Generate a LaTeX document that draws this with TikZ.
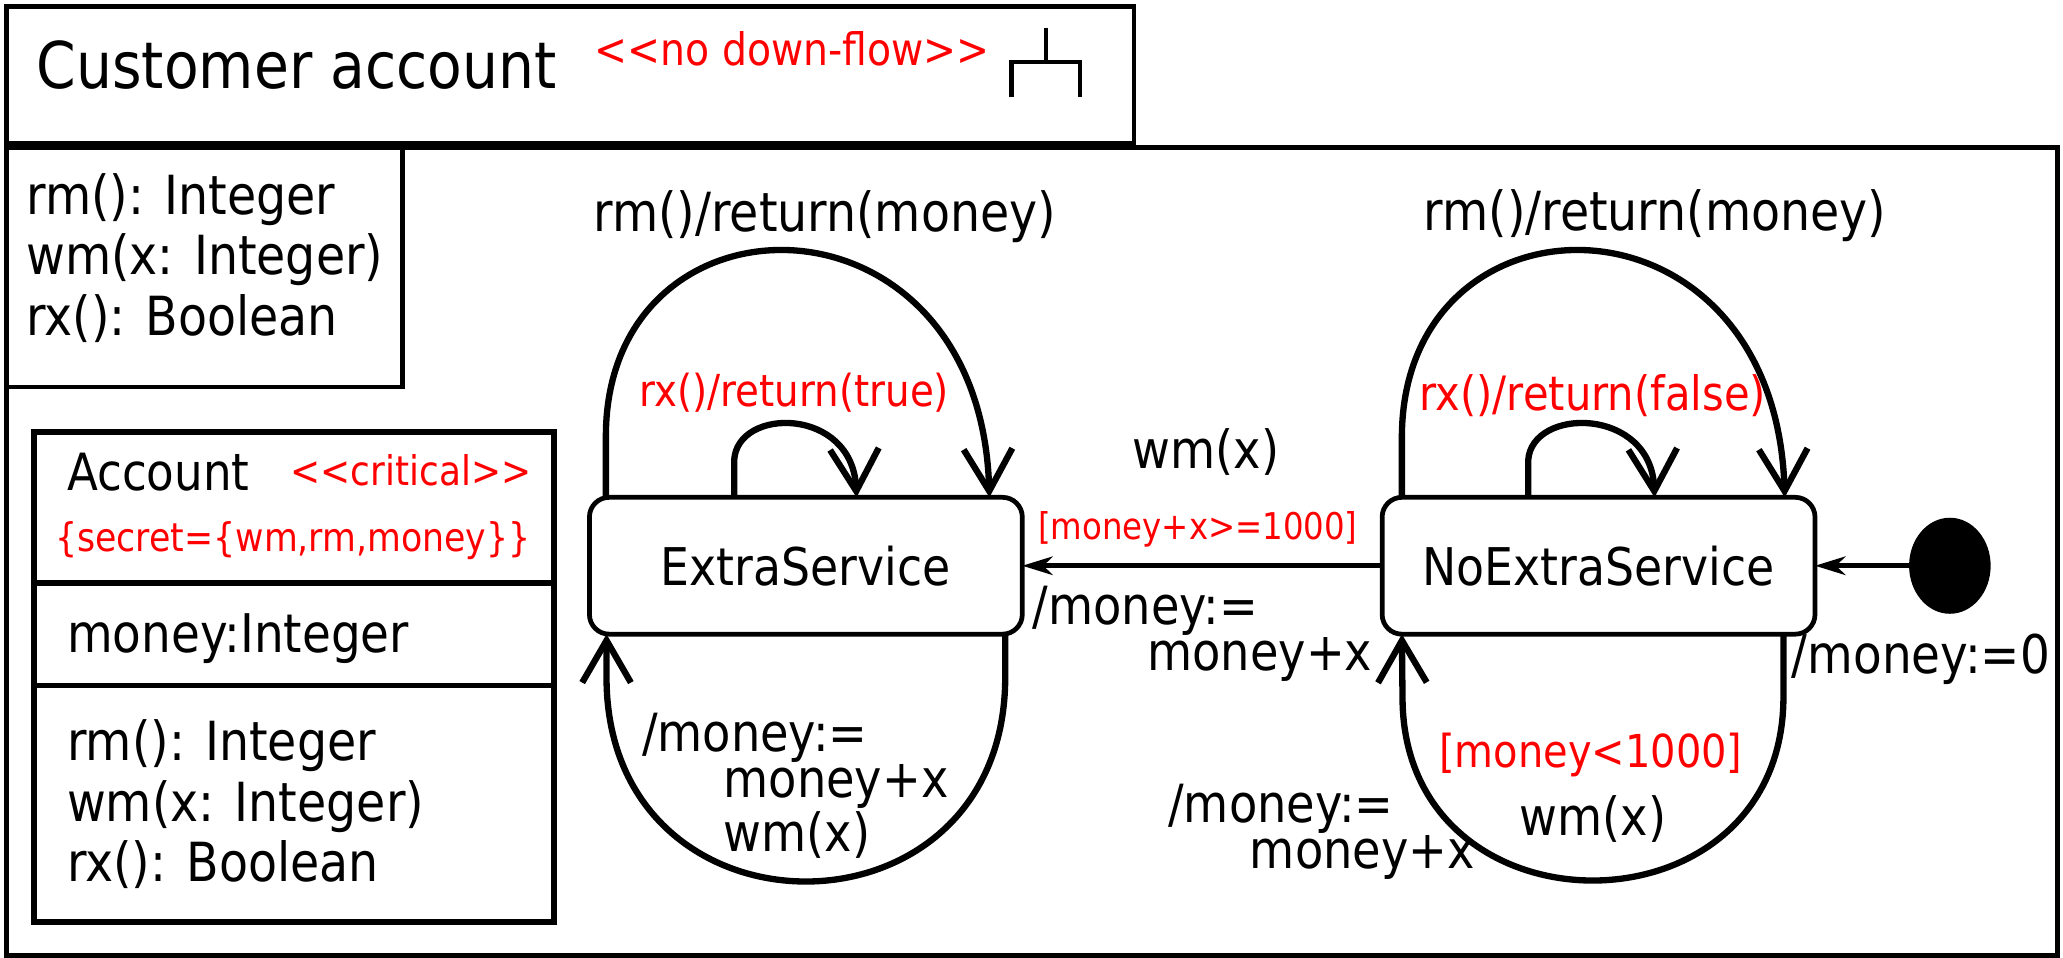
\documentclass[tikz,border=0pt]{standalone}
\usepackage{fontspec}
\setmainfont{DejaVu Sans}[FakeStretch=0.88,Ligatures=TeXOff]
\usetikzlibrary{arrows.meta,shapes.geometric}
\definecolor{umlred}{RGB}{255,0,0}
\newcommand\ftsz[2]{\fontsize{#1}{#2}\selectfont}
\newcommand\mlines[1]{\begin{tabular}[t]{@{}l@{}}#1\end{tabular}}
\begin{document}
\begin{tikzpicture}[x=1pt,y=-1pt,
  box/.style={draw, line width=3.5pt, inner sep=0pt, outer sep=0pt, anchor=north west},
  lbl/.style={inner sep=0pt, outer sep=0pt, anchor=base west},
  txt/.style={lbl, font=\ftsz{40}{34}},
  redtxt/.style={lbl, text=umlred},
  state/.style={draw, rounded corners=15pt, line width=3.6pt, minimum width=329pt,
    minimum height=104pt, inner sep=0pt, outer sep=0pt, font=\ftsz{39.5}{46}},
  trans/.style={line width=4.8pt, -{Straight Barb[length=32pt,width=37pt]}},
  flow/.style={line width=3.8pt, -{Stealth[length=23pt,width=14pt,inset=7pt]}}]
\useasboundingbox (0,0) rectangle (1568,728);
% containers
\node[box, minimum width=1559pt, minimum height=614pt] (main) at (5,112) {};
\node[box, minimum width=857pt, minimum height=104pt] (titlebox) at (5,5) {};
\node[box, minimum width=301pt, minimum height=182pt] (iface) at (5,112) {};
\node[box, line width=4.5pt, minimum width=395pt, minimum height=373pt] (cls) at (26,328) {};
\coordinate (d1) at (0,443);
\coordinate (d2) at (0,521);
\draw[line width=4.5pt] (cls.west |- d1) -- (cls.east |- d1);
\draw[line width=4.5pt] (cls.west |- d2) -- (cls.east |- d2);
% title
\node[lbl, font=\ftsz{49}{58}] (ttl) at (28,67) {Customer account};
\node[redtxt, font=\ftsz{34}{40}] (st1) at (452,49.5) {<<no down-flow>>};
\draw[line width=3.5pt] (795,21) -- (795,47) (769,74) -- (769,47) -- (821,47) -- (821,74);
% interface
\node[lbl, font=\ftsz{41}{46}] (ops) at (20,163) {\mlines{rm(): Integer\\wm(x: Integer)\\rx(): Boolean}};
% class
\node[lbl, font=\ftsz{39}{46}] (clsname) at (51,373) {Account};
\node[redtxt, font=\ftsz{31}{36}] (crit) at (221,369) {<<critical>>};
\node[redtxt, font=\ftsz{30}{36}] (secret) at (42,419) {\{secret=\{wm,rm,money\}\}};
\node[lbl, font=\ftsz{40.5}{46}] (attr) at (51,496) {money:Integer};
\node[lbl, font=\ftsz{41}{46}] (meth) at (51,578) {\mlines{rm(): Integer\\wm(x: Integer)\\rx(): Boolean}};
% states
\node[state] (es) at (612.5,430) {ExtraService};
\node[state] (nes) at (1215,430) {NoExtraService};
\node[ellipse, fill=black, minimum width=62pt, minimum height=73pt, inner sep=0pt, outer sep=0pt] (init) at (1482,430) {};
% transitions
\draw[flow] (init.west) -- (nes.east);
\draw[flow] (nes.west) -- (es.east);
\draw[trans] ([xshift=12.5pt]es.north west) -- ++(0,-48) .. controls (462,137) and (745,137) .. ([xshift=-25pt]es.north east);
\draw[trans] ([xshift=110pt]es.north west) -- ++(0,-28) .. controls (560,309) and (648,309) .. ([xshift=203pt]es.north west);
\draw[trans] ([xshift=15pt]nes.north west) -- ++(0,-48) .. controls (1068,137) and (1349,137) .. ([xshift=-23pt]nes.north east);
\draw[trans] ([xshift=111pt]nes.north west) -- ++(0,-28) .. controls (1164,309) and (1255,309) .. ([xshift=207pt]nes.north west);
\draw[trans] ([xshift=-13pt]es.south east) -- ++(0,35) .. controls (762,721) and (463,721) .. (461,517) -- ([xshift=13pt]es.south west);
\draw[trans] ([xshift=-24pt]nes.south east) -- ++(0,50) .. controls (1353,715) and (1068,715) .. (1066,532) -- ([xshift=15pt]nes.south west);
% labels
\node[txt, font=\ftsz{41}{46}] (l1) at (451,176) {rm()/return(money)};
\node[txt, font=\ftsz{41}{46}] (l2) at (1082,175) {rm()/return(money)};
\node[redtxt, font=\ftsz{33.5}{40}] (l3) at (486,309) {rx()/return(true)};
\node[redtxt, font=\ftsz{36}{40}] (l4) at (1079,312) {rx()/return(false)};
\node[txt] (l5) at (861,356) {wm(x)};
\node[redtxt, font=\ftsz{28}{34}] (l6) at (789,410) {[money+x>=1000]};
\node[txt, font=\ftsz{40}{33}] (l7) at (785,475) {\mlines{/money:=\\\hspace*{87pt}money+x}};
\node[txt, font=\ftsz{40}{34.5}] (l8) at (488,571) {\mlines{/money:=\\\hspace*{62pt}money+x\\\hspace*{62pt}wm(x)}};
\node[redtxt, font=\ftsz{34.5}{40}] (l9) at (1094,583) {[money<1000]};
\node[txt] (l10) at (1155,635) {wm(x)};
\node[txt, font=\ftsz{40}{34}] (l11) at (888,625) {\mlines{/money:=\\\hspace*{62pt}money+x}};
\node[txt, font=\ftsz{40.5}{46}] (l12) at (1362,512) {/money:=0};
\end{tikzpicture}
\end{document}
